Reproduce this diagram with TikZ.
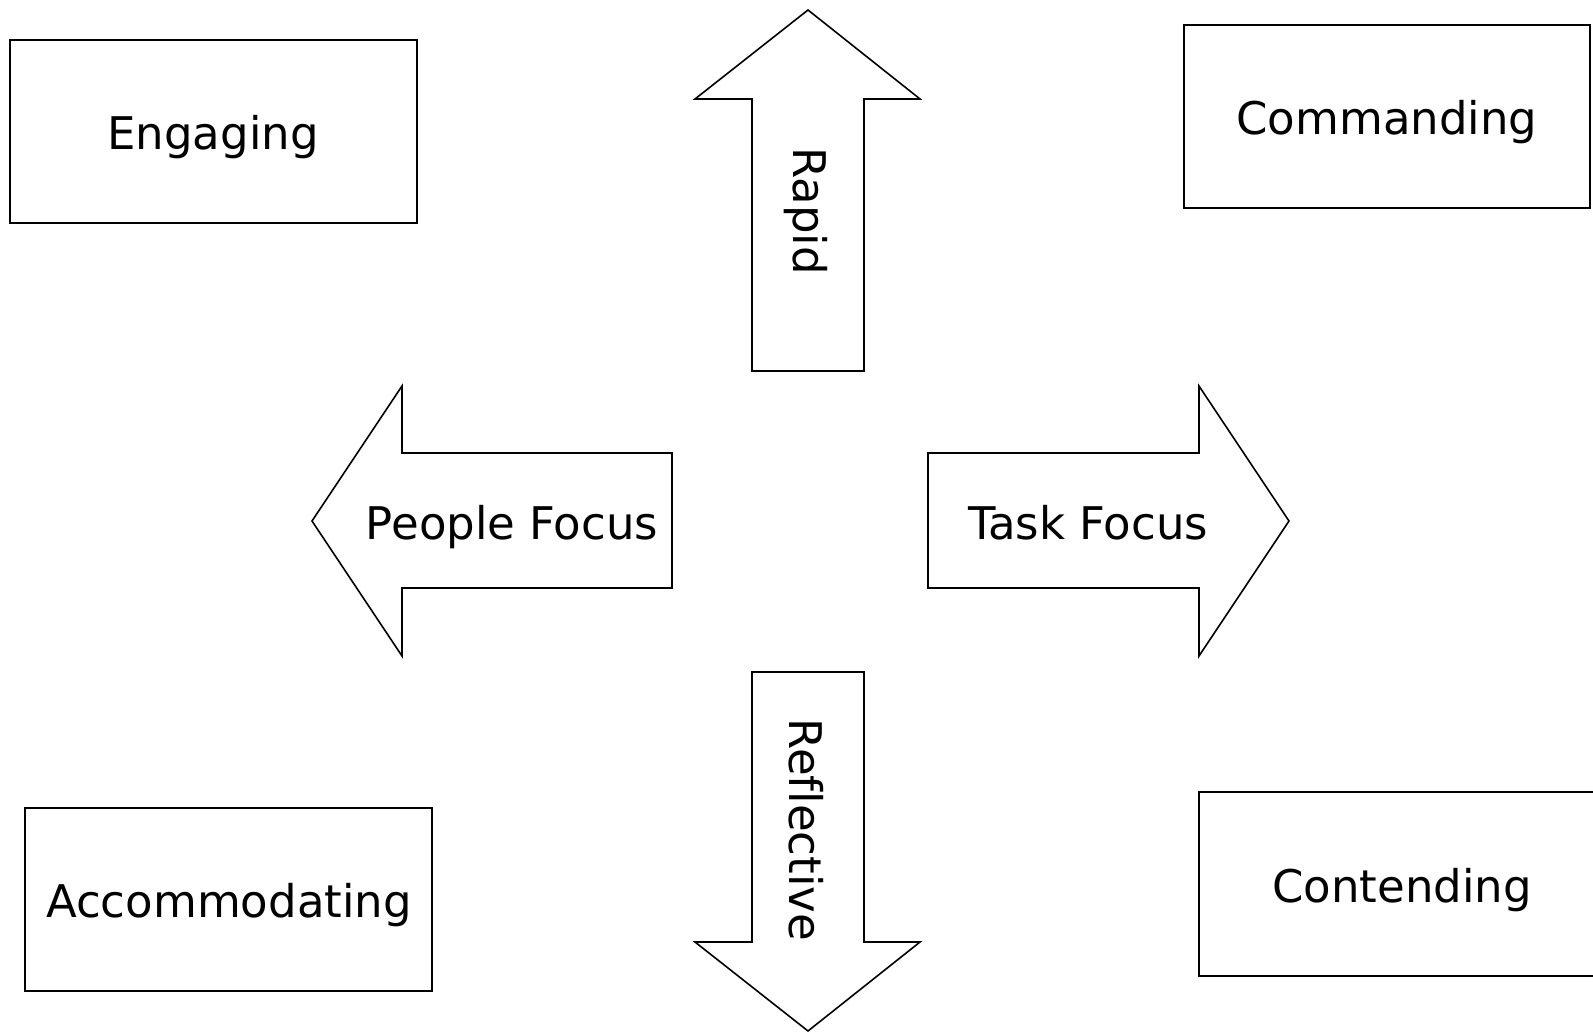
\documentclass[tikz,border=0pt]{standalone}
\usepackage{fontspec}
\setmainfont[Ligatures={TeX,NoCommon}]{DejaVu Sans}
\begin{document}
\begin{tikzpicture}[x=1pt,y=-1pt,
  outline/.style={draw=black,line width=1.6pt,line join=miter,fill=white},
  label/.style={font=\fontsize{45}{54}\selectfont,inner sep=0pt,anchor=base},
  vlabel/.style={font=\fontsize{45}{54}\selectfont,inner sep=0pt,anchor=center,rotate=-90}]
\useasboundingbox (0,0) rectangle (1593,1032);
\clip (0,0) rectangle (1593,1032);
\fill[white] (0,0) rectangle (1593,1032);

% quadrant boxes
\draw[outline] (10,40) rectangle (417,223);
\node[label] (engaging) at (213,150) {Engaging};
\draw[outline] (1184,25) rectangle (1590,208);
\node[label] (commanding) at (1387,135) {Commanding};
\draw[outline] (25,808) rectangle (432,991);
\node[label] (accommodating) at (229,917) {Accommodating};
\draw[outline] (1199,792) rectangle (1606,976);
\node[label] (contending) at (1402,902) {Contending};

% up arrow
\draw[outline] (808,10) -- (920,99) -- (864,99) -- (864,371) -- (752,371) -- (752,99) -- (695,99) -- cycle;
\node[vlabel] (rapid) at (806,211) {Rapid};
% down arrow
\draw[outline] (752,672) -- (864,672) -- (864,942) -- (920,942) -- (808,1031) -- (695,942) -- (752,942) -- cycle;
\node[vlabel] (reflective) at (806,830) {Reflective};
% left arrow
\draw[outline] (312,521) -- (402,386) -- (402,453) -- (672,453) -- (672,588) -- (402,588) -- (402,656) -- cycle;
\node[label] (people) at (512,539) {People Focus};
% right arrow
\draw[outline] (1289,521) -- (1199,386) -- (1199,453) -- (928,453) -- (928,588) -- (1199,588) -- (1199,656) -- cycle;
\node[label] (task) at (1088,539) {Task Focus};
\end{tikzpicture}
\end{document}
